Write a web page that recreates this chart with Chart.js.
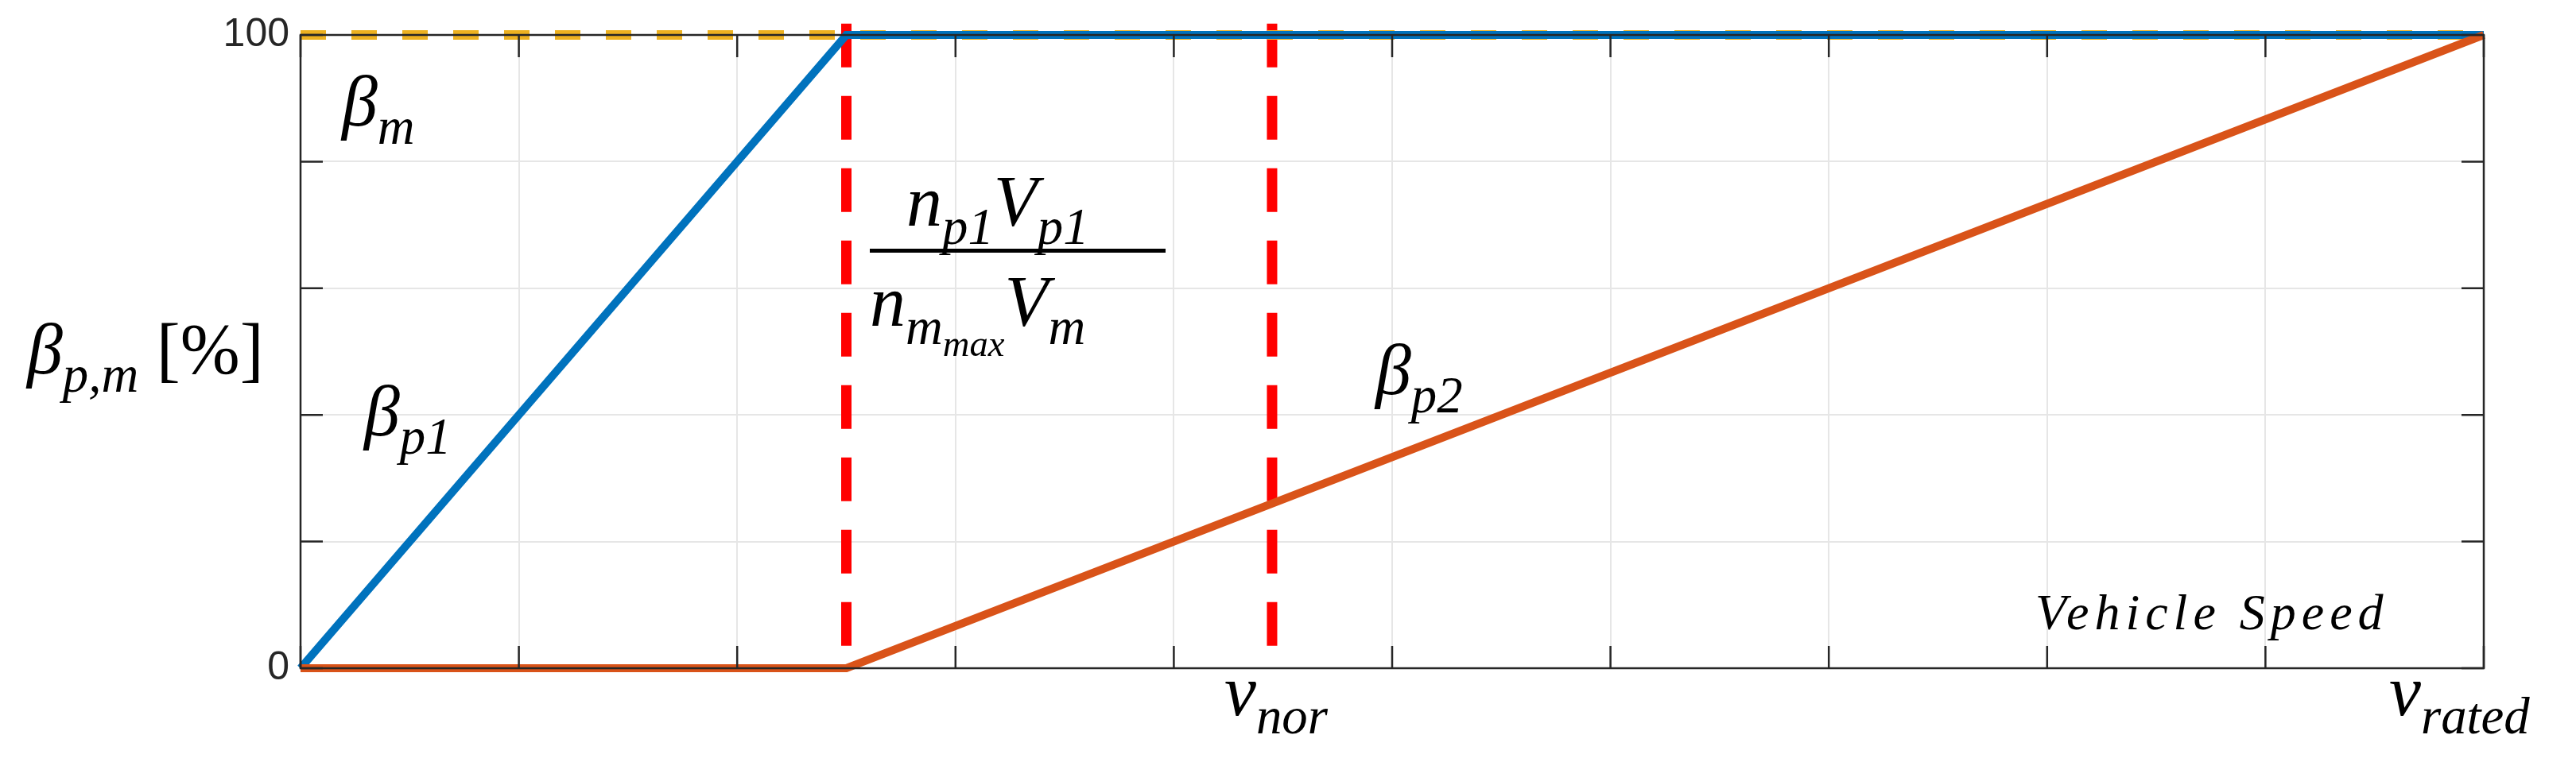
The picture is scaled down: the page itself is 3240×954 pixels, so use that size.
<!DOCTYPE html>
<html>
<head>
<meta charset="utf-8">
<script src="https://cdn.jsdelivr.net/npm/chart.js@4"></script>
<style>
  html, body { margin: 0; padding: 0; background: #fff; }
  #wrap { width: 3240px; height: 954px; }
</style>
</head>
<body>
<div id="wrap"><canvas id="c"></canvas></div>
<script>
// --- DATA ---
const speedBreak = 2.5;
const speedNor = 4.45;
const speedRated = 10;
const betaP1X = [0, 2.5, 10];
const betaP1Y = [0, 100, 100];
const betaP2X = [0, 2.5, 10];
const betaP2Y = [0, 0, 100];
const betaMX = [0, 10];
const betaMY = [100, 100];
const yTickLabels = ['0', '100'];

const pts = (xs, ys) => xs.map((x, i) => ({ x, y: ys[i] }));

const SERIF = '"Liberation Serif", "DejaVu Serif", serif';

// draws text with subscripts: parts = [[text, level]]
const mathText = (ctx, parts, x, y, size) => {
    let cx = x;
    parts.forEach(([t, lvl]) => {
        const s = size * Math.pow(0.72, lvl);
        ctx.font = `italic ${s}px ${SERIF}`;
        const dy = lvl === 0 ? 0 : (lvl === 1 ? size * 0.25 : size * 0.42);
        ctx.fillText(t, cx, y + dy);
        cx += ctx.measureText(t).width;
    });
    return cx;
};

const overlay = {
    id: 'overlay',
    afterDatasetsDraw(chart) {
        const { ctx, chartArea: a, scales: { x, y } } = chart;
        ctx.save();
        // box
        ctx.strokeStyle = '#262626';
        ctx.lineWidth = 2.5;
        ctx.strokeRect(a.left, a.top, a.right - a.left, a.bottom - a.top);
        // inner ticks
        for (let v = 0; v <= 10; v++) {
            const px = x.getPixelForValue(v);
            ctx.beginPath();
            ctx.moveTo(px, a.bottom); ctx.lineTo(px, a.bottom - 28);
            ctx.moveTo(px, a.top); ctx.lineTo(px, a.top + 28);
            ctx.stroke();
        }
        for (let v = 0; v <= 100; v += 20) {
            const py = y.getPixelForValue(v);
            ctx.beginPath();
            ctx.moveTo(a.left, py); ctx.lineTo(a.left + 28, py);
            ctx.moveTo(a.right, py); ctx.lineTo(a.right - 28, py);
            ctx.stroke();
        }
        // y tick labels
        ctx.fillStyle = '#262626';
        ctx.font = '50px "Liberation Sans", Arial, sans-serif';
        ctx.textAlign = 'right';
        ctx.textBaseline = 'middle';
        ctx.fillText(yTickLabels[0], a.left - 14, y.getPixelForValue(0));
        ctx.fillText(yTickLabels[1], a.left - 14, y.getPixelForValue(100));

        // math labels
        ctx.fillStyle = '#000';
        ctx.textAlign = 'left';
        ctx.textBaseline = 'alphabetic';
        const F = 90;
        mathText(ctx, [['β', 0], ['m', 1]], 430, 158, F);
        mathText(ctx, [['β', 0], ['p1', 1]], 458, 548, F);
        mathText(ctx, [['β', 0], ['p2', 1]], 1730, 496, F);
        let ex = mathText(ctx, [['β', 0], ['p,m', 1]], 34, 470, F);
        ctx.font = `${F}px ${SERIF}`;
        ctx.fillText(' [%]', ex, 470);
        // fraction
        mathText(ctx, [['n', 0], ['p1', 1], ['V', 0], ['p1', 1]], 1140, 284, F);
        ctx.fillRect(1094, 313, 372, 5);
        let dx = mathText(ctx, [['n', 0], ['m', 1]], 1094, 410, F);
        dx = mathText(ctx, [['max', 2]], dx, 410, F);
        mathText(ctx, [['V', 0], ['m', 1]], dx, 410, F);
        // speed labels
        mathText(ctx, [['v', 0], ['nor', 1]], 1540, 900, F);
        mathText(ctx, [['v', 0], ['rated', 1]], 3005, 900, F);
        ctx.font = `italic 64px ${SERIF}`;
        ctx.letterSpacing = '7px';
        ctx.fillText('Vehicle Speed', 2560, 792);
        ctx.restore();
    }
};

new Chart(document.getElementById('c'), {
    type: 'scatter',
    data: {
        datasets: [
            { data: pts(betaP2X, betaP2Y), borderColor: '#D95319', borderWidth: 10 },
            { data: pts(betaP1X, betaP1Y), borderColor: '#0072BD', borderWidth: 10 },
            { data: pts(betaMX, betaMY), borderColor: '#EDB120', borderWidth: 12, borderDash: [32, 32] },
            { data: pts([speedBreak, speedBreak], [101.8, -0.9]), borderColor: '#FF0000', borderWidth: 13, borderDash: [55, 36] },
            { data: pts([speedNor, speedNor], [101.8, -0.9]), borderColor: '#FF0000', borderWidth: 13, borderDash: [55, 36] }
        ].map(d => Object.assign(d, { showLine: true, pointRadius: 0, clip: false, borderCapStyle: 'butt' }))
    },
    options: {
        responsive: true,
        maintainAspectRatio: false,
        animation: false,
        devicePixelRatio: 1,
        layout: { padding: { left: 378, top: 44, right: 116, bottom: 113 } },
        plugins: { legend: { display: false }, tooltip: { enabled: false } },
        scales: {
            x: {
                type: 'linear', min: 0, max: speedRated,
                ticks: { display: false, stepSize: 1 },
                grid: { color: '#e6e6e6', lineWidth: 2, drawTicks: false },
                border: { display: false }
            },
            y: {
                min: 0, max: 100,
                ticks: { display: false, stepSize: 20 },
                grid: { color: '#e6e6e6', lineWidth: 2, drawTicks: false },
                border: { display: false }
            }
        }
    },
    plugins: [overlay]
});
</script>
</body>
</html>
